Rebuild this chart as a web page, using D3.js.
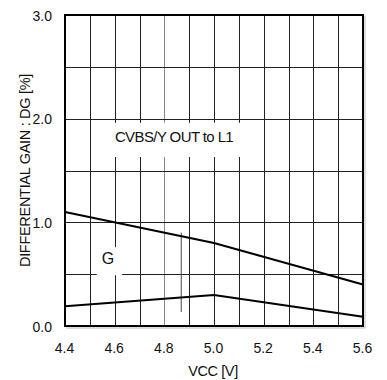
<!DOCTYPE html>
<html>
<head>
<meta charset="utf-8">
<script src="https://cdn.jsdelivr.net/npm/d3@7"></script>
<style>
  html, body { margin: 0; padding: 0; background: #fff; }
  svg { display: block; }
  text { font-family: "Liberation Sans", Arial, sans-serif; fill: #111; }
</style>
</head>
<body>
<svg id="chart" width="387" height="380"></svg>
<script>
// ---- data ----
const vcc = [4.4, 5.0, 5.6];
const seriesUpper = [1.1, 0.8, 0.4];
const seriesLower = [0.19, 0.3, 0.09];
const xTickValues = [4.4, 4.6, 4.8, 5.0, 5.2, 5.4, 5.6];
const xTickLabels = ["4.4", "4.6", "4.8", "5.0", "5.2", "5.4", "5.6"];
const yTickValues = [0, 1, 2, 3];
const yTickLabels = ["0.0", "1.0", "2.0", "3.0"];
const xGridValues = [4.5, 4.6, 4.7, 4.8, 4.9, 5.0, 5.1, 5.2, 5.3, 5.4, 5.5];
const yGridValues = [0.5, 1.0, 1.5, 2.0, 2.5];
const markerLine = { x: 4.868, y0: 0.135, y1: 0.9 };
const labelTitle = "CVBS/Y OUT to L1";
const labelG = "G";
const xTitle = "VCC [V]";
const yTitle = "DIFFERENTIAL GAIN : DG [%]";

// ---- layout ----
const svg = d3.select("#chart");
const L = 65, R = 363, T = 15, B = 326;
const x = d3.scaleLinear().domain([4.4, 5.6]).range([L, R]);
const y = d3.scaleLinear().domain([0, 3]).range([B, T]);

// grid
const g = svg.append("g");
g.selectAll("line.vx").data(xGridValues).join("line")
  .attr("x1", d => Math.round(x(d)) + 0.5).attr("x2", d => Math.round(x(d)) + 0.5)
  .attr("y1", T).attr("y2", B)
  .attr("stroke", d => Math.abs(d - 4.8) < 1e-6 ? "#888" : "#222").attr("stroke-width", 1);
g.selectAll("line.hy").data(yGridValues).join("line")
  .attr("x1", L).attr("x2", R)
  .attr("y1", d => Math.round(y(d)) + 0.5).attr("y2", d => Math.round(y(d)) + 0.5)
  .attr("stroke", "#222").attr("stroke-width", 1);

// white label backgrounds (breaking grid)
svg.append("rect").attr("x", x(4.56)).attr("y", y(1.96)).attr("width", x(5.12) - x(4.56)).attr("height", y(1.63) - y(1.96)).attr("fill", "#fff");
svg.append("rect").attr("x", x(4.528)).attr("y", y(0.76)).attr("width", x(4.63) - x(4.528)).attr("height", y(0.49) - y(0.76)).attr("fill", "#fff");

// marker line
svg.append("line")
  .attr("x1", x(markerLine.x)).attr("x2", x(markerLine.x))
  .attr("y1", y(markerLine.y1)).attr("y2", y(markerLine.y0))
  .attr("stroke", "#444").attr("stroke-width", 1);

// curves
const line = d3.line().x((d, i) => x(vcc[i])).y(d => y(d));
[seriesUpper, seriesLower].forEach(s => {
  svg.append("path").attr("d", line(s)).attr("fill", "none")
    .attr("stroke", "#000").attr("stroke-width", 2);
});

// frame shadow + frame
svg.append("line").attr("x1", R + 2).attr("x2", R + 2).attr("y1", T + 1).attr("y2", B + 2).attr("stroke", "#bbb").attr("stroke-width", 1);
svg.append("line").attr("x1", L + 1).attr("x2", R + 2).attr("y1", B + 2).attr("y2", B + 2).attr("stroke", "#bbb").attr("stroke-width", 1);
svg.append("rect").attr("x", L).attr("y", T).attr("width", R - L).attr("height", B - T)
  .attr("fill", "none").attr("stroke", "#000").attr("stroke-width", 2);

// axes (labels only)
const xAxis = d3.axisBottom(x).tickValues(xTickValues).tickFormat((d, i) => xTickLabels[i]).tickSize(0).tickPadding(0);
const gx = svg.append("g").attr("transform", `translate(0,${B})`).call(xAxis);
gx.select(".domain").remove();
gx.selectAll("text").attr("y", 27).attr("dy", null).attr("x", -1)
  .style("font-size", "14px").style("font-family", "Liberation Sans, Arial, sans-serif").attr("fill", "#111");

const yAxis = d3.axisLeft(y).tickValues(yTickValues).tickFormat((d, i) => yTickLabels[i]).tickSize(0).tickPadding(0);
const gy = svg.append("g").attr("transform", `translate(${L},0)`).call(yAxis);
gy.select(".domain").remove();
gy.selectAll("text").attr("x", -13).attr("dy", "0.36em")
  .style("font-size", "14px").style("font-family", "Liberation Sans, Arial, sans-serif").attr("fill", "#111");

// titles
svg.append("text").attr("x", x(5.0) - 1).attr("y", 376).attr("text-anchor", "middle")
  .style("font-size", "14.5px").style("letter-spacing", "-0.4px").text(xTitle);
svg.append("text").attr("transform", `translate(30,${(T + B) / 2}) rotate(-90)`).attr("text-anchor", "middle")
  .style("font-size", "14.5px").style("letter-spacing", "-0.3px").text(yTitle);

// in-plot labels
svg.append("text").attr("x", 174).attr("y", 142).attr("text-anchor", "middle")
  .style("font-size", "15px").style("letter-spacing", "-0.6px").text(labelTitle);
svg.append("text").attr("x", 108).attr("y", 264).attr("text-anchor", "middle")
  .style("font-size", "16px").text(labelG);
</script>
</body>
</html>
